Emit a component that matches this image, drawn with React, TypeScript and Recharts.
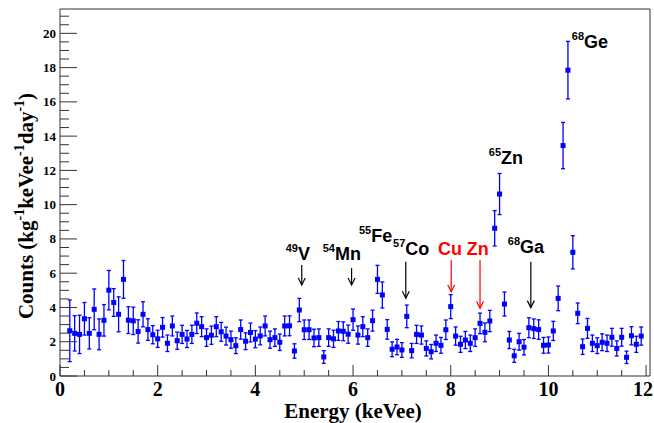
import React from "react";
import {
  ScatterChart,
  Scatter,
  XAxis,
  YAxis,
  ErrorBar,
  ReferenceLine,
  ReferenceDot,
  ReferenceArea,
} from "recharts";

// spectrum bins (keVee) and rates with their uncertainties
const energy = [
  0.2, 0.3, 0.4, 0.5, 0.6, 0.7, 0.8, 0.9, 1.0, 1.1, 1.2, 1.3, 1.4, 1.5, 1.6,
  1.7, 1.8, 1.9, 2.0, 2.1, 2.2, 2.3, 2.4, 2.5, 2.6, 2.7, 2.8, 2.9, 3.0, 3.1,
  3.2, 3.3, 3.4, 3.5, 3.6, 3.7, 3.8, 3.9, 4.0, 4.1, 4.2, 4.3, 4.4, 4.5, 4.6,
  4.7, 4.8, 4.9, 5.0, 5.1, 5.2, 5.3, 5.4, 5.5, 5.6, 5.7, 5.8, 5.9, 6.0, 6.1,
  6.2, 6.3, 6.4, 6.5, 6.6, 6.7, 6.8, 6.9, 7.0, 7.1, 7.2, 7.3, 7.4, 7.5, 7.6,
  7.7, 7.8, 7.9, 8.0, 8.1, 8.2, 8.3, 8.4, 8.5, 8.6, 8.7, 8.8, 8.9, 9.0, 9.1,
  9.2, 9.3, 9.4, 9.5, 9.6, 9.7, 9.8, 9.9, 10.0, 10.1, 10.2, 10.3, 10.4, 10.5,
  10.6, 10.7, 10.8, 10.9, 11.0, 11.1, 11.2, 11.3, 11.4, 11.5, 11.6, 11.7,
  11.8, 11.9,
];

const counts = [
  2.64, 2.49, 2.43, 3.34, 2.49, 3.89, 2.43, 3.25, 5.01, 4.29, 3.6, 5.64, 3.26,
  3.22, 2.6, 3.6, 2.71, 2.41, 2.17, 2.84, 1.91, 2.92, 2.06, 2.43, 2.16, 2.43,
  3.08, 2.88, 2.24, 2.38, 2.88, 2.58, 2.33, 2.12, 1.77, 2.71, 2.03, 2.54, 2.15,
  2.34, 2.92, 2.12, 2.24, 1.97, 2.92, 2.93, 1.46, 3.85, 2.7, 2.7, 2.22, 2.24,
  1.11, 2.24, 2.17, 2.63, 2.61, 2.44, 3.29, 2.39, 2.88, 2.24, 3.23, 5.64, 4.73,
  2.72, 1.56, 1.69, 1.52, 3.48, 1.48, 2.43, 2.39, 1.61, 1.42, 1.91, 1.79, 2.7,
  4.05, 2.33, 1.85, 2.1, 1.91, 2.24, 3.07, 2.55, 3.21, 8.62, 10.62, 4.2, 2.1,
  1.18, 2.0, 1.68, 2.82, 2.76, 2.71, 1.79, 1.81, 2.63, 4.53, 13.45, 17.85,
  7.22, 3.66, 1.71, 2.78, 1.91, 1.77, 1.97, 1.91, 2.26, 1.61, 2.26, 1.09, 2.35,
  1.85, 2.33,
];

const countErr = [
  1.8, 1.03, 1.12, 0.95, 0.91, 1.19, 0.9, 0.92, 1.15, 0.81, 1.02, 1.1, 0.78,
  0.8, 0.68, 0.73, 0.63, 0.53, 0.5, 0.57, 0.48, 0.58, 0.5, 0.53, 0.5, 0.53,
  0.6, 0.58, 0.51, 0.53, 0.58, 0.55, 0.52, 0.5, 0.46, 0.56, 0.49, 0.55, 0.5,
  0.52, 0.58, 0.5, 0.51, 0.48, 0.58, 0.58, 0.42, 0.68, 0.57, 0.57, 0.51, 0.51,
  0.37, 0.51, 0.5, 0.55, 0.55, 0.53, 0.62, 0.53, 0.58, 0.51, 0.61, 0.82, 0.76,
  0.57, 0.43, 0.45, 0.43, 0.66, 0.42, 0.53, 0.53, 0.44, 0.42, 0.48, 0.46, 0.57,
  0.7, 0.53, 0.47, 0.5, 0.48, 0.51, 0.6, 0.55, 0.62, 1.03, 1.2, 0.7, 0.5, 0.38,
  0.49, 0.45, 0.58, 0.57, 0.57, 0.46, 0.47, 0.56, 0.72, 1.35, 1.68, 0.97, 0.6,
  0.45, 0.58, 0.48, 0.46, 0.49, 0.48, 0.52, 0.44, 0.52, 0.36, 0.53, 0.47,
  0.53,
];

const xTicks = [
  0, 0.5, 1, 1.5, 2, 2.5, 3, 3.5, 4, 4.5, 5, 5.5, 6, 6.5, 7, 7.5, 8, 8.5, 9,
  9.5, 10, 10.5, 11, 11.5, 12,
];
const yTicks = [
  0, 0.5, 1, 1.5, 2, 2.5, 3, 3.5, 4, 4.5, 5, 5.5, 6, 6.5, 7, 7.5, 8, 8.5, 9,
  9.5, 10, 10.5, 11, 11.5, 12, 12.5, 13, 13.5, 14, 14.5, 15, 15.5, 16, 16.5,
  17, 17.5, 18, 18.5, 19, 19.5, 20, 20.5, 21,
];

const X_MAX = 12.08;
const Y_MAX = 21.42;

// line identifications: label anchor (left edge, baseline) and optional arrow
const peaks = [
  { sup: "49", name: "V", lx: 4.62, ly: 6.77, color: "#000", arrow: { x: 4.95, from: 6.48, to: 5.31 } },
  { sup: "54", name: "Mn", lx: 5.38, ly: 6.77, color: "#000", arrow: { x: 5.97, from: 6.3, to: 5.31 } },
  { sup: "55", name: "Fe", lx: 6.12, ly: 7.84, color: "#000" },
  { sup: "57", name: "Co", lx: 6.82, ly: 7.06, color: "#000", arrow: { x: 7.08, from: 6.67, to: 4.54 } },
  { sup: "", name: "Cu", lx: 7.74, ly: 7.06, color: "#ff0000", arrow: { x: 8.01, from: 6.77, to: 4.92 } },
  { sup: "", name: "Zn", lx: 8.33, ly: 7.06, color: "#ff0000", arrow: { x: 8.6, from: 6.77, to: 3.95 } },
  { sup: "68", name: "Ga", lx: 9.17, ly: 7.16, color: "#000", arrow: { x: 9.64, from: 6.67, to: 3.99 } },
  { sup: "65", name: "Zn", lx: 8.78, ly: 12.38, color: "#000" },
  { sup: "68", name: "Ge", lx: 10.48, ly: 19.13, color: "#000" },
];

const points = energy.map((e, i) => ({ e, v: counts[i], err: countErr[i] }));

const SERIF = "'Liberation Serif', 'Times New Roman', serif";
const SANS = "'Liberation Sans', Arial, sans-serif";
const BLUE = "#0000ff";

const Square = (props: any) => {
  const { cx, cy } = props;
  if (cx == null || cy == null) return null;
  return <rect x={cx - 2.5} y={cy - 2.5} width={5} height={5} fill={BLUE} />;
};

const XTick = ({ x, y, payload }: any) => {
  const v = payload.value;
  const major = v % 2 === 0;
  return (
    <g>
      <line x1={x} x2={x} y1={y} y2={y - (major ? 11 : 6)} stroke="#333" />
      {major && (
        <text
          x={v === 12 ? x - 3 : x}
          y={y + 20}
          textAnchor="middle"
          fontFamily={SERIF}
          fontWeight="bold"
          fontSize={20}
          fill="#000"
        >
          {v}
        </text>
      )}
    </g>
  );
};

const YTick = ({ x, y, payload }: any) => {
  const v = payload.value;
  const major = v % 2 === 0;
  return (
    <g>
      <line x1={x} x2={x + (major ? 17 : 9)} y1={y} y2={y} stroke="#333" />
      {major && (
        <text x={x - 4} y={y + 4.5} textAnchor="end" fontFamily={SERIF} fontWeight="bold" fontSize={13} fill="#000">
          {v}
        </text>
      )}
    </g>
  );
};

const YTitle = () => {
  const cx = 26;
  const cy = 206;
  const sup = { fontSize: 14 };
  return (
    <text
      x={cx}
      y={cy}
      transform={`rotate(-90, ${cx}, ${cy})`}
      textAnchor="middle"
      dominantBaseline="central"
      fontFamily={SERIF}
      fontWeight="bold"
      fontSize={21}
      fill="#000"
    >
      Counts (kg
      <tspan {...sup} dy={-7}>-1</tspan>
      <tspan dy={7}>keVee</tspan>
      <tspan {...sup} dy={-7}>-1</tspan>
      <tspan dy={7}>day</tspan>
      <tspan {...sup} dy={-7}>-1</tspan>
      <tspan dy={7}>)</tspan>
    </text>
  );
};

const XTitle = () => (
  <text x={353} y={418} textAnchor="middle" fontFamily={SERIF} fontWeight="bold" fontSize={21} fill="#000">
    Energy (keVee)
  </text>
);

const Arrow = (props: any) => {
  const { x1, y1, x2, y2, color } = props;
  return (
    <g stroke={color} strokeWidth={1.2} fill="none">
      <line x1={x1} y1={y1} x2={x2} y2={y2} />
      <polyline points={`${x2 - 3.5},${y2 - 7} ${x2},${y2} ${x2 + 3.5},${y2 - 7}`} />
    </g>
  );
};

const PeakLabel = (props: any) => {
  const { cx, cy, sup, name, color } = props;
  return (
    <text x={cx} y={cy} fontFamily={SANS} fontWeight="bold" fontSize={18} fill={color}>
      {sup && (
        <tspan fontSize={11} dy={-8}>
          {sup}
        </tspan>
      )}
      <tspan dy={sup ? 8 : 0}>{name}</tspan>
    </text>
  );
};

export default function App() {
  return (
    <div style={{ position: "absolute", left: 0, top: 0, background: "#fff" }}>
      <ScatterChart width={654} height={423} margin={{ top: 9, right: 4, left: 0, bottom: 0 }}>
        <XAxis
          type="number"
          dataKey="e"
          domain={[0, X_MAX]}
          ticks={xTicks}
          interval={0}
          tickSize={0}
          tickMargin={0}
          tickLine={false}
          axisLine={false}
          height={47}
          tick={<XTick />}
          label={{ content: () => <XTitle /> }}
          allowDataOverflow
        />
        <YAxis
          type="number"
          dataKey="v"
          domain={[0, Y_MAX]}
          ticks={yTicks}
          interval={0}
          tickSize={0}
          tickMargin={0}
          tickLine={false}
          axisLine={false}
          width={60}
          tick={<YTick />}
          label={{ content: () => <YTitle /> }}
          allowDataOverflow
        />
        <ReferenceArea x1={0} x2={X_MAX} y1={0} y2={Y_MAX} fill="none" stroke="#333" strokeWidth={1} />
        {peaks
          .filter((p) => p.arrow)
          .map((p) => (
            <ReferenceLine
              key={`arrow-${p.name}-${p.lx}`}
              segment={[
                { x: p.arrow!.x, y: p.arrow!.from },
                { x: p.arrow!.x, y: p.arrow!.to },
              ]}
              stroke={p.color}
              shape={(sp: any) => <Arrow {...sp} color={p.color} />}
            />
          ))}
        {peaks.map((p) => (
          <ReferenceDot
            key={`label-${p.name}-${p.lx}`}
            x={p.lx}
            y={p.ly}
            r={0}
            shape={(sp: any) => <PeakLabel {...sp} sup={p.sup} name={p.name} color={p.color} />}
          />
        ))}
        <Scatter data={points} fill={BLUE} shape={<Square />} isAnimationActive={false}>
          <ErrorBar dataKey="err" direction="y" width={2} stroke={BLUE} strokeWidth={1.3} />
        </Scatter>
      </ScatterChart>
    </div>
  );
}
